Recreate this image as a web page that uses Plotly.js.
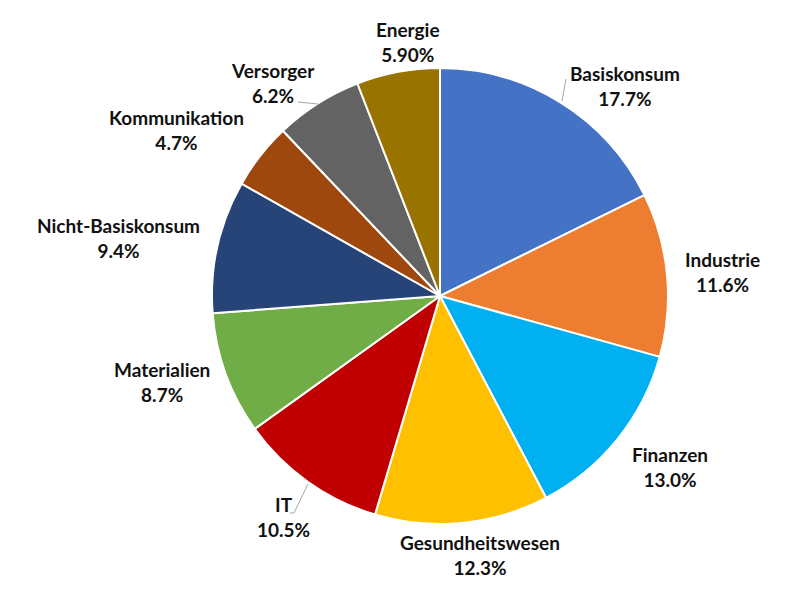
<!DOCTYPE html>
<html>
<head>
<meta charset="utf-8">
<script src="https://cdn.plot.ly/plotly-3.0.1.min.js"></script>
<style>html,body{margin:0;padding:0;background:#fff;}#chart{width:800px;height:594px;}</style>
</head>
<body>
<div id="chart"></div>
<script>
const categories = ["Basiskonsum","Industrie","Finanzen","Gesundheitswesen","IT","Materialien","Nicht-Basiskonsum","Kommunikation","Versorger","Energie"];
const values = [17.7, 11.6, 13.0, 12.3, 10.5, 8.7, 9.4, 4.7, 6.2, 5.9];
const valueLabels = ["17.7%","11.6%","13.0%","12.3%","10.5%","8.7%","9.4%","4.7%","6.2%","5.90%"];
const colors = ["#4472C4","#ED7D31","#00B0F0","#FFC000","#C00000","#70AD47","#264478","#9E480E","#636363","#997300"];
// label centres in pixels (layout only)
const labelPos = [[625,86],[722,272],[670,467],[480,555],[283,517],[162,382],[118,238],[176,130],[273,83],[408,42]];

const W = 800, H = 594;
const cx = 440, cy = 296, R = 228;
const px = x => x / W, py = y => 1 - y / H;

const annotations = categories.map((c, i) => ({
  x: px(labelPos[i][0]), y: py(labelPos[i][1]), xref: 'paper', yref: 'paper',
  xanchor: 'center', yanchor: 'middle', showarrow: false,
  text: '<b>' + c + '<br>' + valueLabels[i] + '</b>',
  font: {family: 'Lato, sans-serif', size: 19, color: '#111111'}
}));

const leader = (pts) => ({
  type: 'path', xref: 'paper', yref: 'paper',
  path: 'M' + pts.map(p => px(p[0]) + ',' + py(p[1])).join(' L'),
  line: {color: '#a6a6a6', width: 1}
});
const shapes = [
  leader([[562,101],[566,79]]),
  leader([[298,102],[318,104]]),
  leader([[290,513],[294,513],[308,484]])
];

Plotly.newPlot('chart', [{
  type: 'pie',
  labels: categories,
  values: values,
  sort: false,
  direction: 'clockwise',
  rotation: 0,
  textinfo: 'none',
  hoverinfo: 'label+percent',
  marker: {colors: colors, line: {color: '#ffffff', width: 2}},
  domain: {x: [px(cx - R), px(cx + R)], y: [py(cy + R), py(cy - R)]},
  showlegend: false
}], {
  width: W, height: H,
  margin: {l: 0, r: 0, t: 0, b: 0},
  paper_bgcolor: '#ffffff',
  annotations: annotations,
  shapes: shapes
}, {displayModeBar: false, staticPlot: true});
</script>
</body>
</html>
